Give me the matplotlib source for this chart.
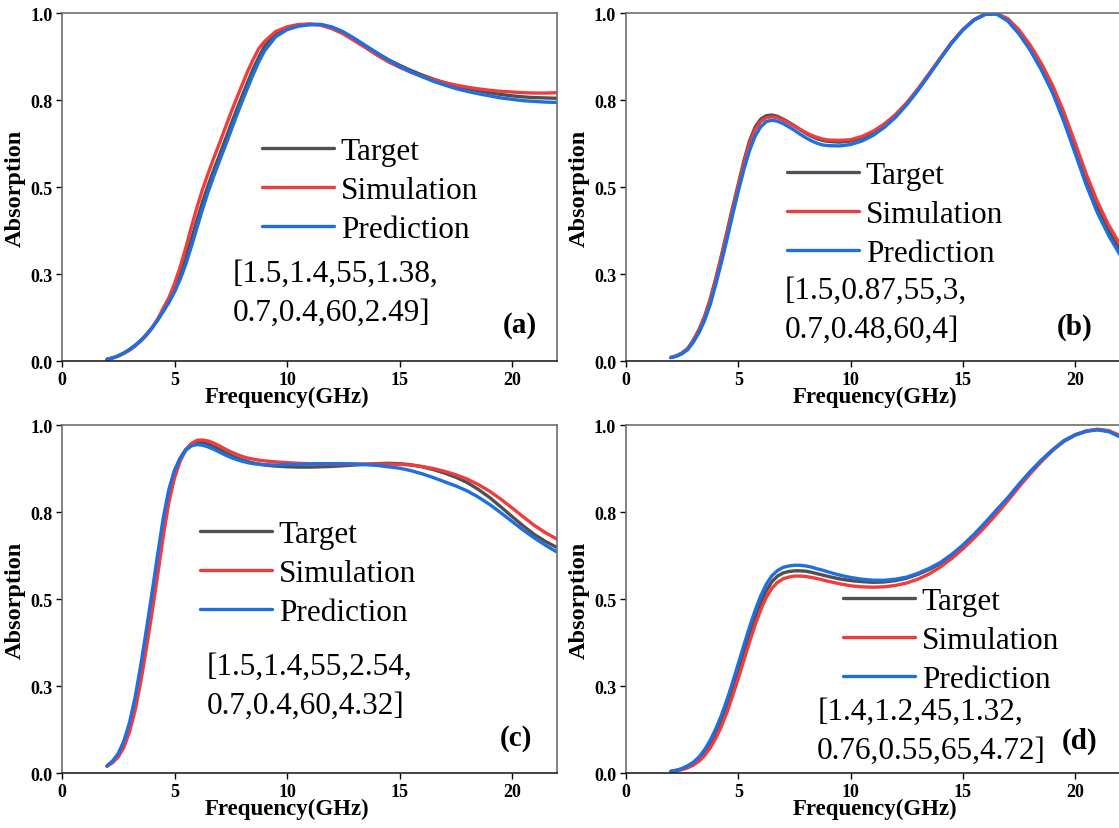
import numpy as np
import matplotlib
matplotlib.use("Agg")
import matplotlib.pyplot as plt

plt.rcParams["font.family"] = ["Liberation Serif", "DejaVu Serif"]

# frequency sampling (GHz): finer steps on the steep low-frequency part
freq = np.concatenate([np.arange(2.0, 9.01, 0.25), np.arange(9.5, 22.01, 0.5)])

# (a)
target_a = [0.005, 0.009, 0.015, 0.023, 0.033, 0.045, 0.059, 0.076, 0.096, 0.119,
            0.145, 0.175, 0.210, 0.250, 0.297, 0.350, 0.405, 0.458, 0.506, 0.550,
            0.592, 0.635, 0.678, 0.720, 0.761, 0.801, 0.840, 0.874, 0.904,
            0.940, 0.957, 0.965, 0.968, 0.967, 0.958, 0.944, 0.925, 0.905, 0.885,
            0.866, 0.850, 0.835, 0.822, 0.810, 0.800, 0.791, 0.783, 0.777, 0.771,
            0.766, 0.762, 0.759, 0.757, 0.756, 0.755]
sim_a = [0.005, 0.009, 0.014, 0.022, 0.031, 0.043, 0.057, 0.074, 0.094, 0.120,
         0.152, 0.182, 0.222, 0.270, 0.325, 0.385, 0.442, 0.494, 0.540, 0.584,
         0.626, 0.669, 0.712, 0.753, 0.793, 0.832, 0.867, 0.898, 0.918,
         0.947, 0.960, 0.967, 0.968, 0.965, 0.955, 0.940, 0.920, 0.900, 0.879,
         0.860, 0.844, 0.830, 0.818, 0.808, 0.800, 0.793, 0.787, 0.782, 0.778,
         0.775, 0.773, 0.771, 0.770, 0.770, 0.771]
pred_a = [0.005, 0.009, 0.015, 0.023, 0.033, 0.045, 0.059, 0.075, 0.095, 0.117,
          0.142, 0.168, 0.198, 0.234, 0.278, 0.329, 0.383, 0.437, 0.487, 0.532,
          0.575, 0.617, 0.660, 0.703, 0.745, 0.785, 0.824, 0.860, 0.891,
          0.932, 0.952, 0.962, 0.966, 0.967, 0.960, 0.946, 0.927, 0.906, 0.885,
          0.865, 0.847, 0.831, 0.817, 0.804, 0.793, 0.783, 0.775, 0.768, 0.762,
          0.756, 0.752, 0.748, 0.746, 0.744, 0.743]

# (b)
target_b = [0.010, 0.015, 0.023, 0.036, 0.060, 0.090, 0.128, 0.178, 0.238, 0.303,
            0.372, 0.442, 0.508, 0.575, 0.632, 0.672, 0.695, 0.705, 0.707, 0.703,
            0.695, 0.686, 0.676, 0.665, 0.655, 0.646, 0.639, 0.634, 0.631,
            0.629, 0.632, 0.641, 0.656, 0.678, 0.705, 0.740, 0.780, 0.825, 0.870,
            0.915, 0.952, 0.981, 0.997, 0.998, 0.980, 0.945, 0.900, 0.845, 0.780,
            0.700, 0.610, 0.520, 0.440, 0.375, 0.320]
sim_b = [0.010, 0.015, 0.023, 0.036, 0.059, 0.088, 0.126, 0.175, 0.234, 0.298,
         0.366, 0.436, 0.502, 0.568, 0.624, 0.664, 0.688, 0.699, 0.702, 0.699,
         0.692, 0.684, 0.675, 0.666, 0.657, 0.649, 0.643, 0.638, 0.635,
         0.634, 0.636, 0.645, 0.660, 0.681, 0.708, 0.742, 0.782, 0.826, 0.871,
         0.915, 0.952, 0.980, 0.996, 0.999, 0.984, 0.952, 0.908, 0.855, 0.792,
         0.715, 0.627, 0.537, 0.457, 0.390, 0.335]
pred_b = [0.010, 0.014, 0.021, 0.033, 0.054, 0.081, 0.116, 0.162, 0.220, 0.283,
          0.350, 0.420, 0.487, 0.550, 0.604, 0.646, 0.673, 0.688, 0.692, 0.689,
          0.682, 0.673, 0.663, 0.652, 0.642, 0.633, 0.626, 0.621, 0.619,
          0.618, 0.622, 0.632, 0.648, 0.671, 0.700, 0.736, 0.777, 0.822, 0.868,
          0.913, 0.951, 0.980, 0.996, 0.997, 0.977, 0.940, 0.893, 0.836, 0.770,
          0.688, 0.597, 0.505, 0.425, 0.360, 0.305]

# (c)
target_c = [0.020, 0.033, 0.052, 0.085, 0.135, 0.205, 0.295, 0.395, 0.500, 0.610,
            0.720, 0.808, 0.868, 0.905, 0.930, 0.945, 0.951, 0.950, 0.945, 0.938,
            0.930, 0.921, 0.913, 0.906, 0.900, 0.895, 0.891, 0.888, 0.885,
            0.882, 0.880, 0.879, 0.879, 0.880, 0.881, 0.883, 0.885, 0.887, 0.889,
            0.890, 0.889, 0.886, 0.880, 0.872, 0.862, 0.850, 0.835, 0.815, 0.792,
            0.765, 0.737, 0.710, 0.685, 0.665, 0.648]
sim_c = [0.020, 0.030, 0.046, 0.074, 0.118, 0.180, 0.262, 0.358, 0.460, 0.568,
         0.680, 0.778, 0.848, 0.896, 0.928, 0.947, 0.956, 0.957, 0.954, 0.948,
         0.940, 0.931, 0.923, 0.916, 0.910, 0.905, 0.902, 0.899, 0.897,
         0.894, 0.892, 0.890, 0.889, 0.888, 0.888, 0.888, 0.888, 0.888, 0.888,
         0.888, 0.887, 0.885, 0.881, 0.875, 0.867, 0.857, 0.845, 0.829, 0.810,
         0.787, 0.762, 0.736, 0.711, 0.690, 0.672]
pred_c = [0.020, 0.035, 0.056, 0.092, 0.145, 0.218, 0.310, 0.412, 0.518, 0.628,
          0.733, 0.815, 0.870, 0.904, 0.927, 0.940, 0.944, 0.942, 0.937, 0.930,
          0.922, 0.914, 0.907, 0.901, 0.896, 0.892, 0.889, 0.887, 0.886,
          0.885, 0.886, 0.887, 0.888, 0.889, 0.889, 0.889, 0.888, 0.886, 0.884,
          0.880, 0.876, 0.869, 0.860, 0.849, 0.837, 0.825, 0.811, 0.793, 0.772,
          0.748, 0.723, 0.698, 0.675, 0.654, 0.635]

# (d)
target_d = [0.005, 0.008, 0.012, 0.019, 0.028, 0.041, 0.060, 0.085, 0.116, 0.153,
            0.196, 0.244, 0.295, 0.347, 0.398, 0.446, 0.489, 0.524, 0.550, 0.566,
            0.575, 0.579, 0.581, 0.581, 0.580, 0.577, 0.573, 0.569, 0.565,
            0.558, 0.553, 0.550, 0.548, 0.549, 0.553, 0.560, 0.571, 0.585, 0.602,
            0.625, 0.652, 0.683, 0.716, 0.752, 0.788, 0.828, 0.866, 0.899, 0.929,
            0.955, 0.972, 0.983, 0.987, 0.982, 0.968]
sim_d = [0.004, 0.006, 0.010, 0.015, 0.023, 0.034, 0.050, 0.072, 0.100, 0.134,
         0.175, 0.222, 0.272, 0.324, 0.376, 0.425, 0.469, 0.505, 0.531, 0.548,
         0.558, 0.563, 0.566, 0.566, 0.565, 0.562, 0.559, 0.555, 0.551,
         0.544, 0.538, 0.535, 0.534, 0.535, 0.539, 0.546, 0.557, 0.572, 0.592,
         0.616, 0.644, 0.675, 0.708, 0.744, 0.782, 0.822, 0.860, 0.895, 0.927,
         0.953, 0.971, 0.983, 0.988, 0.984, 0.970]
pred_d = [0.005, 0.008, 0.013, 0.021, 0.031, 0.046, 0.067, 0.094, 0.127, 0.166,
          0.211, 0.261, 0.314, 0.367, 0.419, 0.467, 0.509, 0.543, 0.567, 0.582,
          0.591, 0.595, 0.597, 0.597, 0.595, 0.592, 0.587, 0.583, 0.578,
          0.569, 0.562, 0.557, 0.554, 0.554, 0.557, 0.563, 0.574, 0.588, 0.605,
          0.628, 0.655, 0.686, 0.720, 0.756, 0.791, 0.830, 0.866, 0.899, 0.928,
          0.954, 0.971, 0.982, 0.986, 0.981, 0.966]

params = ["[1.5,1.4,55,1.38,\n0.7,0.4,60,2.49]",
          "[1.5,0.87,55,3,\n0.7,0.48,60,4]",
          "[1.5,1.4,55,2.54,\n0.7,0.4,60,4.32]",
          "[1.4,1.2,45,1.32,\n0.76,0.55,65,4.72]"]
tags = ["(a)", "(b)", "(c)", "(d)"]
series = [(target_a, sim_a, pred_a), (target_b, sim_b, pred_b),
          (target_c, sim_c, pred_c), (target_d, sim_d, pred_d)]
names = ["Target", "Simulation", "Prediction"]
colors = ["#505050", "#f03c3c", "#1f6fe0"]

yticks = [0.0, 0.25, 0.5, 0.75, 1.0]
yticklabels = ["0.0", "0.3", "0.5", "0.8", "1.0"]

# axes boxes in figure fractions
boxes = [(0.0554, 0.5633, 0.4424, 0.4198), (0.5594, 0.5633, 0.4415, 0.4198),
         (0.0554, 0.0663, 0.4424, 0.4198), (0.5594, 0.0663, 0.4415, 0.4198)]
legend_pos = [(0.404, 0.491), (0.326, 0.422), (0.279, 0.574), (0.439, 0.380)]
param_pos = [(0.345, 0.195), (0.322, 0.146), (0.293, 0.250), (0.387, 0.122)]
tag_pos = [(0.925, 0.106), (0.909, 0.100), (0.917, 0.103), (0.919, 0.095)]
xlabel_x = [0.455, 0.504, 0.455, 0.504]

fig = plt.figure(figsize=(11.19, 8.29), dpi=100)

for i in range(4):
    ax = fig.add_axes(boxes[i])
    for vals, name, c in zip(series[i], names, colors):
        ax.plot(freq, vals, color=c, lw=2.4, label=name,
                solid_capstyle="round", solid_joinstyle="round")
    ax.set_xlim(0, 22)
    ax.set_ylim(0, 1)
    ax.set_xticks([0, 5, 10, 15, 20])
    ax.set_yticks(yticks)
    ax.set_yticklabels(yticklabels)
    ax.tick_params(direction="out", length=4, width=1, labelsize=13, pad=3)
    for lab in ax.get_xticklabels() + ax.get_yticklabels():
        lab.set_fontweight("bold")
    for s in ["left", "top", "right"]:
        ax.spines[s].set_color("#6e6e6e")
        ax.spines[s].set_linewidth(1.2)
    ax.spines["bottom"].set_color("#222222")
    ax.spines["bottom"].set_linewidth(1.2)
    ax.set_xlabel("Frequency(GHz)", fontsize=16.5, fontweight="bold")
    ax.xaxis.set_label_coords(xlabel_x[i], -0.072)
    ax.set_ylabel("Absorption", fontsize=17.5, fontweight="bold", labelpad=3)
    ax.legend(loc="center left", bbox_to_anchor=legend_pos[i], frameon=False,
              fontsize=22.5, handlelength=2.3, handletextpad=0.22, labelspacing=0.32,
              borderpad=0, borderaxespad=0)
    ax.text(param_pos[i][0], param_pos[i][1], params[i], transform=ax.transAxes,
            ha="left", va="center", fontsize=22.5, linespacing=1.45)
    ax.text(tag_pos[i][0], tag_pos[i][1], tags[i], transform=ax.transAxes,
            ha="center", va="center", fontsize=21, fontweight="bold")

fig.savefig("out.png", dpi=100)
